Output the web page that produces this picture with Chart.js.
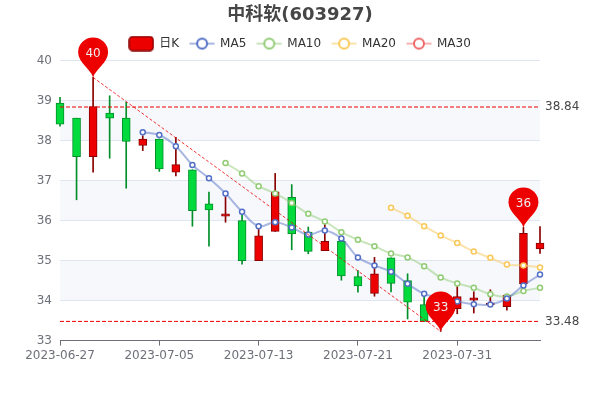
<!DOCTYPE html>
<html>
<head>
<meta charset="utf-8">
<script src="https://cdn.jsdelivr.net/npm/chart.js@4/dist/chart.umd.min.js"></script>
<style>
  html, body { margin: 0; padding: 0; background: #fff; }
  canvas { display: block; }
</style>
</head>
<body>
<canvas id="kline" width="600" height="400"></canvas>
<script>
var dates = ['2023-06-27','2023-06-28','2023-06-29','2023-06-30','2023-07-03','2023-07-04','2023-07-05',
  '2023-07-06','2023-07-07','2023-07-10','2023-07-11','2023-07-12','2023-07-13','2023-07-14','2023-07-17',
  '2023-07-18','2023-07-19','2023-07-20','2023-07-21','2023-07-24','2023-07-25','2023-07-26','2023-07-27',
  '2023-07-28','2023-07-31','2023-08-01','2023-08-02','2023-08-03','2023-08-04','2023-08-07'];
var opens = [38.94,38.56,37.60,38.69,38.56,37.88,38.04,37.21,37.27,36.42,36.11,36.00,35.00,35.73,36.58,
  35.71,35.25,35.48,34.60,34.18,35.07,34.50,33.90,33.42,33.80,34.01,33.90,33.85,34.42,35.29];
var closes = [38.41,37.60,38.85,38.56,37.98,38.04,37.29,37.40,36.25,36.27,36.17,35.00,35.62,36.72,35.67,
  35.23,35.48,34.62,34.37,34.67,34.43,33.96,33.48,33.60,34.10,34.07,33.94,34.14,35.68,35.44];
var lows = [38.36,36.52,37.21,37.56,36.81,37.75,37.23,37.12,35.86,35.36,35.96,34.91,35.00,35.73,35.27,
  35.17,35.25,34.51,34.21,34.11,34.22,33.54,33.48,33.23,33.67,33.69,33.85,33.76,34.42,35.18];
var highs = [39.08,38.56,39.58,39.12,38.96,38.12,38.04,38.08,37.27,36.71,36.60,36.25,35.85,37.18,36.90,
  35.84,35.90,35.58,34.75,35.08,35.07,34.67,34.20,33.95,34.35,34.22,34.27,34.14,35.83,35.85];
var ma5 = [null,null,null,null,null,38.21,38.14,37.86,37.39,37.06,36.68,36.22,35.86,35.96,35.83,
  35.65,35.75,35.55,35.08,34.88,34.72,34.42,34.17,34.07,33.98,33.91,33.90,34.05,34.38,34.65];
var ma10 = [null,null,null,null,null,null,null,null,null,null,37.44,37.18,36.86,36.68,36.44,
  36.17,35.98,35.71,35.52,35.36,35.18,35.08,34.86,34.58,34.43,34.32,34.16,34.10,34.24,34.32];
var ma20 = [null,null,null,null,null,null,null,null,null,null,null,null,null,null,null,
  null,null,null,null,null,36.32,36.12,35.86,35.63,35.44,35.23,35.07,34.90,34.88,34.83];
var ma30 = [];
var tickIndices = [0, 6, 12, 18, 24];
var maxClose = 38.84, minClose = 33.48;
var highIndex = 2, lowIndex = 23;
var pins = [
  { index: 2, value: 39.58, label: '40' },
  { index: 23, value: 33.23, label: '33' },
  { index: 28, value: 35.83, label: '36' }
];
var shadedBands = [[38, 39], [36, 37], [34, 35]];

var UP = '#ec0000', UP_BORDER = '#8a0000', DOWN = '#00da3c', DOWN_BORDER = '#008f28';
var FONT = '"DejaVu Sans", "Noto Sans CJK SC", sans-serif';

var isUp = function(i) { return closes[i] > opens[i]; };
var bodies = dates.map(function(d, i) { return [opens[i], closes[i]]; });
var wicks = dates.map(function(d, i) { return [lows[i], highs[i]]; });
var bodyFill = dates.map(function(d, i) { return isUp(i) ? UP : DOWN; });
var bodyBorder = dates.map(function(d, i) { return isUp(i) ? UP_BORDER : DOWN_BORDER; });

// icones de la legende
function legendIcon(color, isCandle) {
  var c = document.createElement('canvas');
  c.width = 26; c.height = 16;
  var g = c.getContext('2d');
  if (isCandle) {
    g.fillStyle = UP; g.strokeStyle = UP_BORDER; g.lineWidth = 1.5;
    g.beginPath(); g.roundRect(1, 1, 24, 14, 3.5); g.fill(); g.stroke();
  } else {
    g.strokeStyle = color; g.globalAlpha = 0.5; g.lineWidth = 2;
    g.beginPath(); g.moveTo(0.5, 8); g.lineTo(25.5, 8); g.stroke();
    g.globalAlpha = 1; g.lineWidth = 2; g.fillStyle = '#fff';
    g.beginPath(); g.arc(13, 8, 5, 0, Math.PI * 2); g.fill(); g.stroke();
  }
  return c;
}
var legendItems = [
  { text: '日K', pointStyle: legendIcon(UP, true) },
  { text: 'MA5', pointStyle: legendIcon('#5470c6') },
  { text: 'MA10', pointStyle: legendIcon('#91cc75') },
  { text: 'MA20', pointStyle: legendIcon('#fac858') },
  { text: 'MA30', pointStyle: legendIcon('#ee6666') }
];

function maLine(label, data, color, alpha) {
  return {
    type: 'line', label: label, data: data, order: 3, clip: false,
    borderColor: alpha, borderWidth: 2, tension: 0.4,
    pointRadius: 2.5, pointBorderWidth: 1.5, pointBorderColor: color, pointBackgroundColor: '#fff'
  };
}
function markLine(data, width, dash) {
  return {
    type: 'line', data: data, order: 2, clip: false, spanGaps: true,
    borderColor: '#ec0000', borderWidth: width, borderDash: dash, pointRadius: 0, tension: 0
  };
}

var diagonal = dates.map(function(d, i) {
  return i === highIndex ? highs[i] : i === lowIndex ? lows[i] : null;
});

var marksPlugin = {
  id: 'marks',
  beforeDraw: function(chart) {
    var a = chart.chartArea, y = chart.scales.y, g = chart.ctx;
    g.save();
    g.fillStyle = 'rgba(210,219,238,0.2)';
    shadedBands.forEach(function(b) {
      var top = y.getPixelForValue(b[1]), bottom = y.getPixelForValue(b[0]);
      g.fillRect(a.left, top, a.right - a.left, bottom - top);
    });
    g.restore();
  },
  afterDraw: function(chart) {
    var a = chart.chartArea, x = chart.scales.x, y = chart.scales.y, g = chart.ctx;
    g.save();
    g.font = '12px ' + FONT;
    g.fillStyle = '#464646';
    g.textAlign = 'left';
    g.textBaseline = 'middle';
    [maxClose, minClose].forEach(function(v) {
      g.fillText(v.toFixed(2), a.right + 5, y.getPixelForValue(v));
    });
    pins.forEach(function(p) {
      var tipX = x.getPixelForValue(p.index), tipY = y.getPixelForValue(p.value);
      var r = 15, cy = tipY - 25;
      g.fillStyle = '#ec0000';
      g.beginPath();
      g.moveTo(tipX, tipY);
      g.bezierCurveTo(tipX - 2, tipY - 8, tipX - r, cy + 10, tipX - r, cy);
      g.arc(tipX, cy, r, Math.PI, 0);
      g.bezierCurveTo(tipX + r, cy + 10, tipX + 2, tipY - 8, tipX, tipY);
      g.closePath();
      g.fill();
      g.fillStyle = '#eee';
      g.textAlign = 'center';
      g.fillText(p.label, tipX, cy + 1);
    });
    g.restore();
  }
};

new Chart(document.getElementById('kline').getContext('2d'), {
  type: 'bar',
  plugins: [marksPlugin],
  data: {
    labels: dates,
    datasets: [
      markLine(dates.map(function() { return maxClose; }), 1, [4, 2]),
      markLine(dates.map(function() { return minClose; }), 1, [4, 2]),
      markLine(diagonal, 0.8, [3, 2]),
      maLine('MA5', ma5, '#5470c6', 'rgba(84,112,198,0.5)'),
      maLine('MA10', ma10, '#91cc75', 'rgba(145,204,117,0.5)'),
      maLine('MA20', ma20, '#fac858', 'rgba(250,200,88,0.5)'),
      maLine('MA30', ma30, '#ee6666', 'rgba(238,102,102,0.5)'),
      {
        label: '日K', data: bodies, order: 5, grouped: false, clip: false, barThickness: 8,
        backgroundColor: bodyFill, borderColor: bodyBorder, borderWidth: 1, borderSkipped: false
      },
      {
        data: wicks, order: 6, grouped: false, clip: false, barThickness: 1,
        backgroundColor: bodyBorder, borderWidth: 0
      }
    ]
  },
  options: {
    responsive: false,
    animation: false,
    devicePixelRatio: 1,
    layout: { padding: { left: 0, right: 0, top: 0, bottom: 34 } },
    scales: {
      x: {
        offset: false,
        afterBuildTicks: function(axis) {
          axis.ticks = axis.ticks.filter(function(t) { return tickIndices.indexOf(t.value) >= 0; });
        },
        grid: { offset: false, drawOnChartArea: false, drawTicks: true, tickLength: 5, tickColor: '#6e7079' },
        border: { color: '#6e7079', width: 1 },
        ticks: { autoSkip: false, maxRotation: 0, color: '#6e7079', font: { family: FONT, size: 12 }, padding: 3 }
      },
      // axe vide, juste pour descendre la zone de trace d'un pixel sous la legende
      xTop: {
        axis: 'x', position: 'top', offset: false,
        afterFit: function(axis) { axis.height = 1; },
        grid: { drawOnChartArea: false, drawTicks: false },
        border: { display: false },
        ticks: { display: false }
      },
      y: {
        min: 33, max: 40,
        afterFit: function(axis) { axis.width = 60; },
        grid: { color: '#e0e6f1', drawTicks: false },
        border: { display: false },
        ticks: { stepSize: 1, color: '#6e7079', font: { family: FONT, size: 12 }, padding: 8 }
      },
      // marge droite : garde le titre et la legende centres sur la page
      yRight: {
        axis: 'y', position: 'right', min: 33, max: 40,
        afterFit: function(axis) { axis.width = 60; },
        grid: { drawOnChartArea: false, drawTicks: false },
        border: { display: false },
        ticks: { display: false }
      }
    },
    plugins: {
      tooltip: { enabled: false },
      title: {
        display: true,
        text: '中科软(603927)',
        color: '#464646',
        font: { family: FONT, size: 18, weight: 'bold' },
        padding: { top: 5, bottom: 0 }
      },
      legend: {
        display: true,
        position: 'top',
        onClick: null,
        labels: {
          usePointStyle: true,
          pointStyleWidth: 24,
          padding: 11,
          color: '#333',
          font: { family: FONT, size: 12 },
          generateLabels: function() {
            return legendItems.map(function(it) {
              return { text: it.text, pointStyle: it.pointStyle, fontColor: '#333', lineWidth: 0, strokeStyle: 'transparent', fillStyle: 'transparent' };
            });
          }
        }
      }
    }
  }
});
</script>
</body>
</html>
